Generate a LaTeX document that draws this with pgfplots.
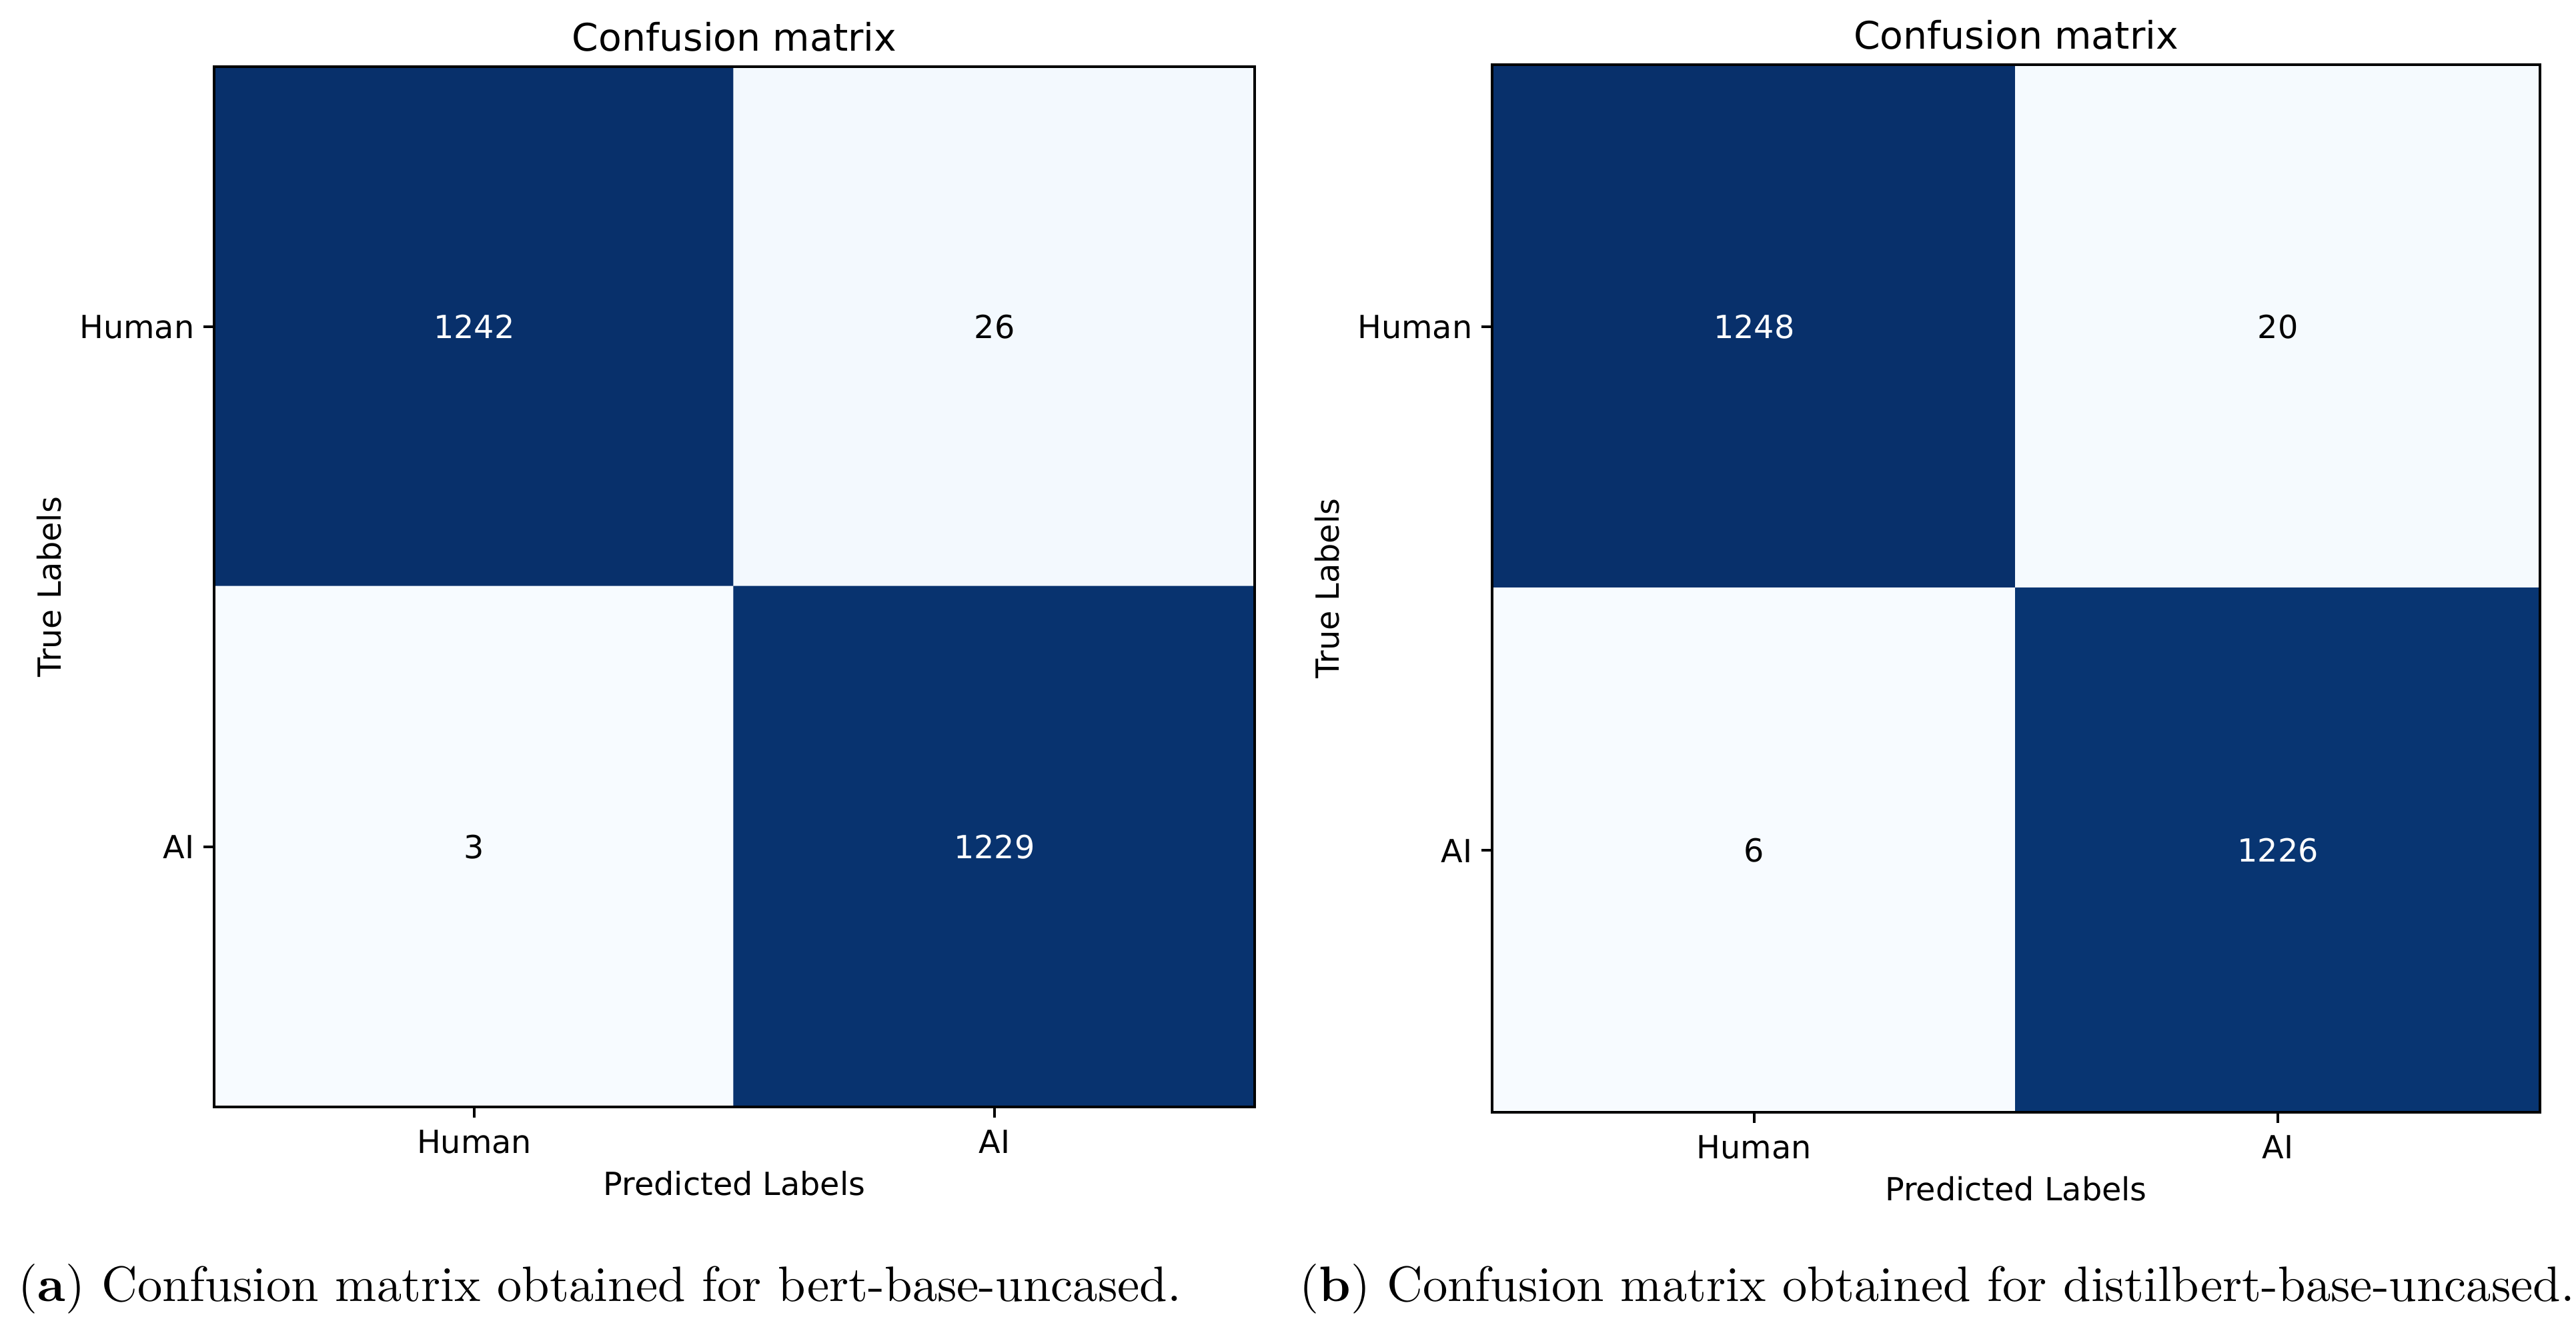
\documentclass[border=0pt]{standalone}
\usepackage{fontspec}
\setsansfont{DejaVu Sans}
\usepackage{pgfplots}
\usepackage{pgfplotstable}
\pgfplotsset{compat=1.18}

% 1 px of the reference = 0.13pt
\newcommand\tickfont{\sffamily\fontsize{6.2pt}{7.4pt}\selectfont}
\newcommand\titlefont{\sffamily\fontsize{7.4pt}{8.9pt}\selectfont}
\newcommand\capfont{\rmfamily\fontsize{9.7pt}{12pt}\selectfont}

% confusion matrices: x = predicted, y = true (0 = Human, 1 = AI)
\pgfplotstableread{
x y v
0 0 1242
1 0 26
0 1 3
1 1 1229
}\cmbert
\pgfplotstableread{
x y v
0 0 1248
1 0 20
0 1 6
1 1 1226
}\cmdistil

\pgfplotsset{
  cm/.style={
    scale only axis,
    xmin=-0.5, xmax=1.5, ymin=-0.5, ymax=1.5,
    y dir=reverse,
    axis on top,
    colormap={blues}{rgb255=(247,251,255) rgb255=(222,235,247) rgb255=(198,219,239)
      rgb255=(158,202,225) rgb255=(107,174,214) rgb255=(66,146,198)
      rgb255=(33,113,181) rgb255=(8,81,156) rgb255=(8,48,107)},
    xtick={0,1}, ytick={0,1},
    xticklabels={Human,AI}, yticklabels={Human,AI},
    tick pos=left, tick align=outside,
    major tick length=2.1pt,
    every tick/.append style={black, line width=0.52pt},
    axis line style={line width=0.52pt},
    tick label style={font=\tickfont, inner sep=0pt},
    xticklabel style={anchor=base, yshift=-6.87pt},
    yticklabel style={anchor=base east, xshift=-1.55pt, yshift=-2.3pt},
    title={Confusion matrix},
    xlabel={Predicted Labels},
    ylabel={True Labels},
    every axis title shift=0pt,
    title style={font=\titlefont, anchor=base, inner sep=0pt},
    label style={font=\tickfont, inner sep=0pt},
  },
  cellwhite/.style={only marks, mark=none, point meta=explicit symbolic,
    nodes near coords,
    every node near coord/.append style={anchor=center, text=white, font=\tickfont}},
  cellblack/.style={only marks, mark=none, point meta=explicit symbolic,
    nodes near coords,
    every node near coord/.append style={anchor=center, text=black, font=\tickfont}},
}

\begin{document}
\begin{tikzpicture}
\useasboundingbox (0,0) rectangle (502.06pt,-258.18pt);

% (a) bert-base-uncased
\begin{axis}[cm,
  at={(41.73pt,-215.8pt)}, anchor=south west,
  width=202.8pt, height=202.8pt,
  title style={at={(axis description cs:0.5,1.0154)}},
  xlabel style={at={(axis description cs:0.5,-0.0846)}, anchor=base},
  ylabel style={at={(axis description cs:-0.1474,0.5)}, anchor=base},
]
\addplot[matrix plot*, mesh/cols=2, point meta=explicit] table[meta=v] {\cmbert};
\addplot[cellwhite] coordinates {(0,0)[1242] (1,1)[1229]};
\addplot[cellblack] coordinates {(1,0)[26] (0,1)[3]};
\end{axis}

% (b) distilbert-base-uncased
\begin{axis}[cm,
  at={(290.81pt,-216.84pt)}, anchor=south west,
  width=204.23pt, height=204.23pt,
  title style={at={(axis description cs:0.5,1.0153)}},
  xlabel style={at={(axis description cs:0.5,-0.0840)}, anchor=base},
  ylabel style={at={(axis description cs:-0.1464,0.5)}, anchor=base},
]
\addplot[matrix plot*, mesh/cols=2, point meta=explicit] table[meta=v] {\cmdistil};
\addplot[cellwhite] coordinates {(0,0)[1248] (1,1)[1226]};
\addplot[cellblack] coordinates {(1,0)[20] (0,1)[6]};
\end{axis}

\node[anchor=base west, inner sep=0pt, font=\capfont] at (3.38pt,-253.63pt)
  {(\textbf{a}) Confusion matrix obtained for bert-base-uncased.};
\node[anchor=base west, inner sep=0pt, font=\capfont] at (253.11pt,-253.63pt)
  {(\textbf{b}) Confusion matrix obtained for distilbert-base-uncased.};
\end{tikzpicture}
\end{document}
